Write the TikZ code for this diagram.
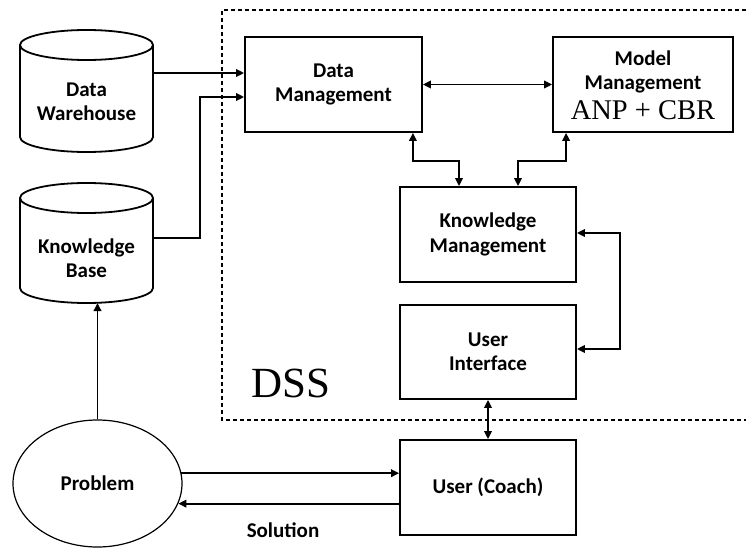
\documentclass[tikz,border=0pt]{standalone}
\usepackage{fontspec}
\setmainfont{Carlito}
\newfontfamily\timesfam{Liberation Serif}
\usetikzlibrary{arrows.meta,calc,shapes.geometric}
\newcommand\lblfont{\fontsize{21}{24.5}\selectfont\bfseries}
\newcommand\anpfont{\timesfam\mdseries\fontsize{28.5}{30}\selectfont}
\newcommand\dssfont{\timesfam\fontsize{43}{44}\selectfont}
\begin{document}
\begin{tikzpicture}[x=1pt,y=-1pt,
  ln/.style={line width=1.8pt},
  box/.style={draw, ln, minimum width=176pt, minimum height=95pt, align=center, inner sep=0pt, font=\lblfont},
  cyltext/.style={minimum width=133pt, align=center, inner sep=0pt, font=\lblfont},
  arr/.style={ln, -{Triangle[length=8pt,width=7.5pt]}},
  dbl/.style={ln, {Triangle[length=8pt,width=7.5pt]}-{Triangle[length=8pt,width=7.5pt]}},
  dsh/.style={line width=1.3pt, dash pattern=on 4pt off 3pt}]
\useasboundingbox (0,0) rectangle (746,548);

% DSS dashed frame
\draw[dsh] (746,10) -- (222,10) -- (222,420) -- (746,420);
\node[font=\dssfont, anchor=base] (dss) at (291,397) {DSS};

% cylinders
\draw[ln] (20,45) -- (20,137) arc[start angle=180, end angle=0, x radius=66.5, y radius=15] -- (153,45);
\draw[ln] (86.5,45) ellipse [x radius=66.5, y radius=15];
\node[cyltext] (dw) at (86.5,102) {Data\\Warehouse};

\draw[ln] (20,198) -- (20,288) arc[start angle=180, end angle=0, x radius=66.5, y radius=15] -- (153,198);
\draw[ln] (86.5,198) ellipse [x radius=66.5, y radius=15];
\node[cyltext] (kb) at (86.5,258) {Knowledge\\Base};
\coordinate (kbbot) at (86.5,303);

% boxes
\node[box, minimum width=177pt] (dm) at (333.5,84.5) {Data\\Management};
\node[box, minimum width=180pt] (mm) at (643,84.5) {};
\node[font=\lblfont, align=center, inner sep=0pt] (mmt) at (643,72) {Model\\Management};
\node[font=\anpfont, anchor=base, inner sep=0pt] (anp) at (643,120) {ANP + CBR};
\node[box] (km) at (488,234.5) {Knowledge\\Management};
\node[box, minimum height=94pt] (ui) at (488,352) {User\\Interface};
\node[box] (uc) at (488,487.5) {User (Coach)};

% problem
\node[draw, ellipse, line width=1.2pt, minimum width=169pt, minimum height=127pt, inner sep=0pt, font=\lblfont] (prob) at (97.5,483.5) {Problem};
\node[font=\lblfont] (sol) at (283,530) {Solution};

% connectors
\draw[arr] ($(dw.east)+(0,-29)$) -- ($(dm.west)+(0,-11.5)$);
\draw[arr] ($(kb.east)+(0,-20)$) -- ++(47,0) |- ($(dm.west)+(0,12.5)$);
\draw[dbl] (dm.east) -- (mm.west);
\draw[dbl] ($(dm.south east)+(-10,0)$) -- ++(0,28) -| ($(km.north)+(-29,0)$);
\draw[dbl] ($(mm.south west)+(14,0)$) -- ++(0,28) -| ($(km.north)+(30,0)$);
\draw[dbl] ($(km.east)+(0,-1.5)$) -- ++(43,0) |- ($(ui.east)+(0,-3)$);
\draw[dbl] (ui.south) -- (uc.north);
\draw[arr] (prob.north) -- (prob.north |- kbbot);
\draw[arr] (prob.7.88) -- (prob.7.88 -| uc.west);
\draw[arr] (prob.-14.37 -| uc.west) -- (prob.-14.37);
\end{tikzpicture}
\end{document}
